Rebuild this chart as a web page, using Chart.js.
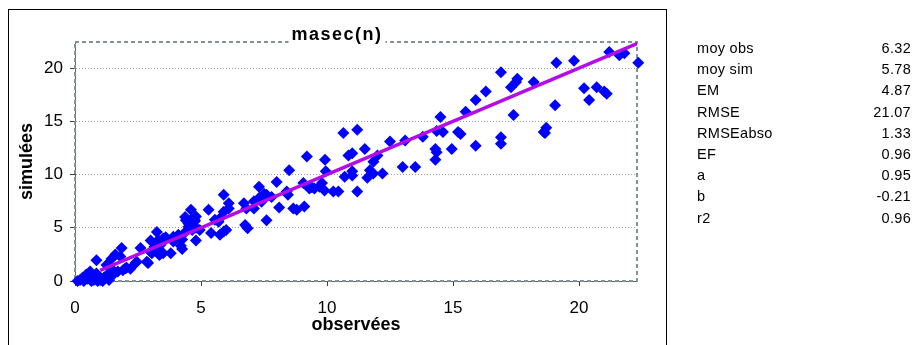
<!DOCTYPE html>
<html>
<head>
<meta charset="utf-8">
<script src="https://cdn.jsdelivr.net/npm/chart.js@4/dist/chart.umd.min.js"></script>
<style>
  html, body { margin: 0; padding: 0; background: #fff; }
  #wrap { position: relative; width: 914px; height: 345px; overflow: hidden; }
  #stats { position: absolute; left: 697px; top: 38px; width: 214px;
           font-family: 'Liberation Sans', Arial, sans-serif; font-size: 14.5px; color: #000; }
  #stats div { height: 21.2px; line-height: 21.2px; display: flex; justify-content: space-between; letter-spacing: 0.3px; }
</style>
</head>
<body>
<div id="wrap">
  <canvas id="myChart"></canvas>
  <div id="stats"></div>
</div>
<script>
const obs = [0.1,0.2,0.3,0.35,0.45,0.5,0.55,0.6,0.65,0.7,0.75,0.85,0.85,0.9,0.95,1.0,1.1,1.15,1.2,1.25,1.3,1.35,1.45,1.45,1.5,1.55,1.6,1.7,1.8,1.85,1.9,2.0,2.05,2.2,2.4,2.45,2.6,2.85,2.9,3.0,3.05,3.15,3.0,3.25,3.3,3.35,3.4,3.5,3.3,3.5,3.8,3.6,3.9,3.9,4.1,4.1,4.2,4.25,4.25,4.4,4.4,4.5,4.5,4.6,4.6,4.75,4.8,4.37,4.76,4.65,4.8,4.8,4.95,5.3,5.4,5.55,5.7,5.75,5.75,5.9,5.9,5.9,6.0,6.1,6.1,6.7,6.75,6.85,6.8,7.1,7.1,7.3,7.3,7.4,7.5,7.6,7.6,7.8,8.0,8.1,8.4,8.45,8.5,8.66,8.8,9.06,9.1,9.2,9.3,9.4,9.5,9.7,9.8,9.9,9.92,9.95,10.25,10.45,10.65,10.7,10.85,11.0,11.0,11.0,11.2,11.2,11.5,11.6,11.7,11.84,11.84,12.0,12.2,12.5,13.0,13.1,13.5,13.8,14.3,14.35,14.3,14.35,14.5,14.6,14.95,15.2,15.3,15.5,15.9,15.9,16.3,16.9,16.9,16.9,17.3,17.4,17.5,17.55,18.2,18.6,18.65,18.7,19.05,19.1,19.8,20.2,20.4,20.7,21.0,21.1,21.2,21.6,21.8,22.35]
const sim = [0.0,0.1,0.3,0.0,0.6,0.2,0.5,0.9,0.0,0.3,0.1,1.95,0.7,0.0,0.4,0.1,0.0,0.3,0.4,1.5,0.6,0.1,0.45,2.1,1.0,0.9,2.5,0.9,2.3,3.1,1.0,1.2,1.25,1.15,1.7,1.8,3.1,1.8,1.7,2.75,2.6,3.2,3.8,4.6,3.85,2.45,3.4,4.0,2.6,2.6,2.6,4.1,4.15,3.7,4.15,4.35,3.3,3.0,3.9,5.7,4.65,5.1,5.4,6.7,5.75,5.6,6.05,6.0,5.7,4.8,5.0,3.8,4.8,6.7,4.5,5.75,5.57,4.35,5.9,6.5,4.65,8.1,4.8,7.3,6.8,7.3,5.26,4.95,6.8,7.5,6.8,8.85,7.8,7.45,8.2,8.1,5.7,7.9,9.3,6.9,8.4,8.1,10.4,6.8,6.7,9.2,7.0,11.7,8.7,8.8,8.7,8.85,9.2,8.5,11.4,10.3,8.4,8.4,13.9,9.8,11.8,12.0,10.3,9.9,14.2,8.4,12.4,9.7,10.4,10.1,11.2,11.8,10.1,13.1,10.7,13.2,10.7,13.55,12.4,12.1,11.4,14.1,15.4,14.0,12.4,14.0,13.8,15.9,12.7,17.0,17.8,19.6,13.5,12.9,18.2,15.6,18.7,19.0,18.7,14.0,13.9,14.4,16.5,20.5,20.7,18.1,17.0,18.2,17.8,17.6,21.5,21.2,21.4,20.5]
const lineX = [1.0, 22.4]
const lineY = [1.0, 22.4]
const tickValues = [0, 5, 10, 15, 20]
const statLabels = ['moy obs', 'moy sim', 'EM', 'RMSE', 'RMSEabso', 'EF', 'a', 'b', 'r2']
const statValues = ['6.32', '5.78', '4.87', '21.07', '1.33', '0.96', '0.95', '-0.21', '0.96']

const FONT = "'Liberation Sans', Arial, sans-serif"

document.getElementById('stats').innerHTML = statLabels
    .map((l, i) => `<div><span>${l}</span><span>${statValues[i]}</span></div>`).join('')

const frame = {
    id: 'frame',
    beforeDraw(chart) {
        const ctx = chart.ctx
        ctx.save()
        ctx.strokeStyle = '#000'
        ctx.lineWidth = 1
        ctx.strokeRect(8.5, 9.5, 658, 360)
        ctx.restore()
    },
    beforeDatasetsDraw(chart) {
        const {ctx, chartArea: a} = chart
        ctx.save()
        ctx.strokeStyle = '#7f9393'
        ctx.lineWidth = 2
        ctx.setLineDash([4, 3])
        ctx.strokeRect(a.left, a.top, a.right - a.left, a.bottom - a.top)
        ctx.restore()
    },
    afterDraw(chart) {
        const ctx = chart.ctx
        ctx.save()
        ctx.font = `bold 18px ${FONT}`
        ctx.letterSpacing = '1.5px'
        const text = 'masec(n)'
        const w = ctx.measureText(text).width
        ctx.fillStyle = '#fff'
        ctx.fillRect(337 - w / 2 - 3, 26, w + 6, 17)
        ctx.fillStyle = '#000'
        ctx.textAlign = 'center'
        ctx.textBaseline = 'middle'
        ctx.fillText(text, 337, 35)
        ctx.restore()
    }
}

new Chart(document.getElementById('myChart'), {
    type: 'scatter',
    data: {
        datasets: [{
            type: 'line',
            data: lineX.map((x, i) => ({x, y: lineY[i]})),
            borderColor: '#b30ce8',
            borderWidth: 3.5,
            pointRadius: 0,
            order: 0
        }, {
            data: obs.map((x, i) => ({x, y: sim[i]})),
            pointStyle: 'rectRot',
            pointRadius: 6,
            backgroundColor: '#0000ff',
            borderColor: '#0000ff',
            borderWidth: 0,
            clip: false,
            order: 1
        }]
    },
    options: {
        responsive: true,
        maintainAspectRatio: false,
        animation: false,
        layout: { padding: { left: 10, top: 42, right: 277, bottom: 0 } },
        plugins: { legend: { display: false }, tooltip: { enabled: false } },
        scales: {
            x: {
                type: 'linear',
                min: 0,
                max: 22.3,
                afterFit: s => { s.height = 64 },
                afterBuildTicks: s => { s.ticks = tickValues.map(v => ({value: v})) },
                ticks: { color: '#000', padding: 12, font: { family: FONT, size: 17 } },
                grid: { drawOnChartArea: false, tickLength: 5, tickColor: '#404040' },
                border: { color: '#606060', width: 1 },
                title: { display: true, text: 'observées', color: '#000', padding: { top: 0, bottom: 9 },
                         font: { family: FONT, size: 18, weight: 'bold' } }
            },
            y: {
                min: 0,
                max: 22.45,
                afterFit: s => { s.width = 65 },
                afterBuildTicks: s => { s.ticks = tickValues.map(v => ({value: v})) },
                ticks: { color: '#000', padding: 7, font: { family: FONT, size: 17 } },
                grid: {
                    color: c => c.index === 0 ? 'rgba(0,0,0,0)' : '#9a9a9a',
                    tickLength: 5,
                    tickColor: '#404040',
                    tickBorderDash: []
                },
                border: { color: '#606060', width: 1, dash: [1, 2] },
                title: { display: true, text: 'simulées', color: '#000', padding: { top: 6, bottom: 0 },
                         font: { family: FONT, size: 18, weight: 'bold' } }
            }
        }
    },
    plugins: [frame]
})
</script>
</body>
</html>
